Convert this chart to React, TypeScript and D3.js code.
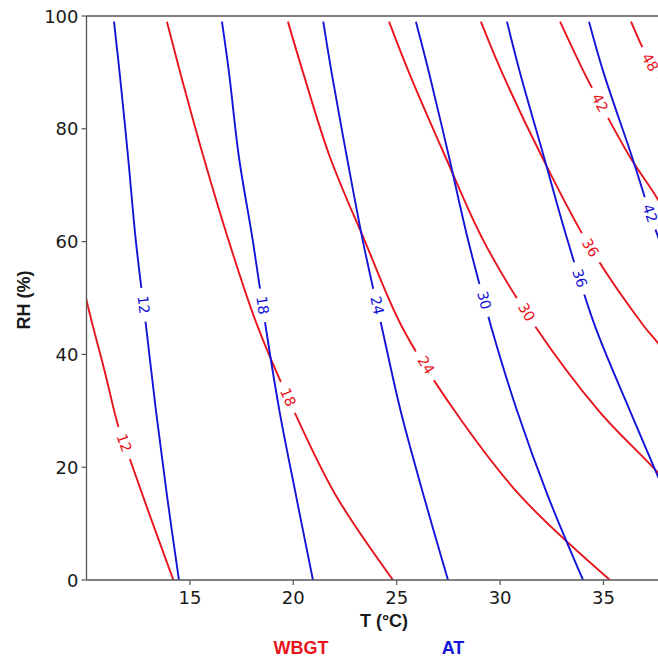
import React from 'react';
import * as d3 from 'd3';

const W = 658;
const H = 660;

const xTicks = [15, 20, 25, 30, 35];
const yTicks = [0, 20, 40, 60, 80, 100];

// WBGT contours, points as [T (°C), RH (%)]
const wbgt12 = [[9.8, 53], [10.0, 49.6], [10.31, 45], [10.74, 39], [10.98, 35.5], [11.54, 27.2], [12.1, 21.4], [12.91, 13], [14.2, 0]];
const wbgt18 = [[13.89, 99], [14.53, 90], [15.66, 75], [16.89, 60], [18.27, 45], [20.03, 30], [22.06, 15], [24.82, 0]];
const wbgt24 = [[19.74, 99], [20.47, 90], [21.77, 75], [23.47, 60], [25.24, 45], [27.8, 30], [30.96, 15], [35.31, 0]];
const wbgt30 = [[24.63, 99], [25.59, 90], [27.36, 75], [29.22, 60], [31.69, 45], [34.77, 30], [37.64, 19], [40.0, 9]];
const wbgt36 = [[29.07, 99], [30.09, 90], [32.03, 75], [34.35, 59], [36.96, 45], [37.64, 42], [39.7, 32]];
const wbgt42 = [[32.9, 99], [34.06, 90], [34.83, 84.6], [36.28, 75], [37.64, 67.4], [39.0, 58]];
const wbgt48 = [[36.33, 99], [36.86, 94.6], [37.25, 91.8], [39.2, 80]];

// AT contours, points as [T (°C), RH (%)]
const at12 = [[11.33, 99], [11.6, 90], [12.01, 75], [12.39, 60], [12.88, 45], [13.36, 30], [13.89, 15], [14.47, 0]];
const at18 = [[16.55, 99], [16.89, 90], [17.37, 75], [18.05, 60], [18.66, 45], [19.33, 30], [20.13, 15], [20.95, 0]];
const at24 = [[21.45, 99], [21.85, 90], [22.59, 75], [23.37, 60], [24.27, 45], [25.19, 30], [26.3, 15], [27.48, 0]];
const at30 = [[25.93, 99], [26.56, 90], [27.53, 75], [28.47, 60], [29.56, 45], [30.82, 30], [32.3, 15], [34.01, 0]];
const at36 = [[30.33, 99], [30.96, 90], [32.12, 75], [33.28, 60], [34.59, 45], [36.28, 30], [37.64, 18.3], [38.6, 10]];
const at42 = [[34.3, 99], [35.0, 90], [36.38, 75], [37.25, 65], [38.2, 55]];

const wbgtLevels = [12, 18, 24, 30, 36, 42, 48];
const wbgtLines = [wbgt12, wbgt18, wbgt24, wbgt30, wbgt36, wbgt42, wbgt48];
const wbgtLabelRH = [24.3, 32.4, 38.1, 47.5, 58.9, 84.6, 91.8];

const atLevels = [12, 18, 24, 30, 36, 42];
const atLines = [at12, at18, at24, at30, at36, at42];
const atLabelRH = [48.8, 48.7, 48.7, 49.6, 53.5, 65];

const RED = '#e8141c';
const BLUE = '#1414d8';

const x = d3.scaleLinear().domain([10, 40]).range([86.5, 86.5 + 30 * 20.68]);
const y = d3.scaleLinear().domain([0, 100]).range([580, 16]);

const lineGen = d3
  .line<number[]>()
  .x((d) => x(d[0]))
  .y((d) => y(d[1]))
  .curve(d3.curveCatmullRom.alpha(0.5));

function tAtRH(pts: number[][], rh: number): number {
  for (let i = 0; i < pts.length - 1; i++) {
    const a = pts[i];
    const b = pts[i + 1];
    const hi = Math.max(a[1], b[1]);
    const lo = Math.min(a[1], b[1]);
    if (rh <= hi && rh >= lo) {
      const f = (rh - a[1]) / (b[1] - a[1]);
      return a[0] + f * (b[0] - a[0]);
    }
  }
  return pts[pts.length - 1][0];
}

function labelPos(pts: number[][], rh: number) {
  const t = tAtRH(pts, rh);
  const t1 = tAtRH(pts, rh + 2);
  const t2 = tAtRH(pts, rh - 2);
  const px = x(t);
  const py = y(rh);
  const dx = x(t2) - x(t1);
  const dy = y(rh - 2) - y(rh + 2);
  let ang = (Math.atan2(dy, dx) * 180) / Math.PI;
  if (ang > 90) ang -= 180;
  if (ang < -90) ang += 180;
  return { px, py, ang };
}

type Contour = { key: string; pts: number[][]; level: number; rh: number; color: string };

const contours: Contour[] = [
  ...wbgtLines.map((pts, i) => ({ key: 'w' + i, pts, level: wbgtLevels[i], rh: wbgtLabelRH[i], color: RED })),
  ...atLines.map((pts, i) => ({ key: 'a' + i, pts, level: atLevels[i], rh: atLabelRH[i], color: BLUE })),
];

const GAP = 34;
const LABEL_FONT = 14.5;

export default function App() {
  const plotLeft = 86.5;
  const plotTop = 16;
  const plotBottom = 580;
  return (
    <svg
      width={W}
      height={H}
      style={{ position: 'absolute', left: 0, top: 0, background: '#fff' }}
      xmlns="http://www.w3.org/2000/svg"
    >
      <defs>
        <clipPath id="plotClip">
          <rect x={plotLeft} y={plotTop} width={W - plotLeft} height={plotBottom - plotTop} />
        </clipPath>
        {contours.map((c) => {
          const { px, py, ang } = labelPos(c.pts, c.rh);
          return (
            <mask id={'m' + c.key} key={c.key} maskUnits="userSpaceOnUse" x={0} y={0} width={W} height={H}>
              <rect x={0} y={0} width={W} height={H} fill="#fff" />
              <rect
                x={-GAP / 2}
                y={-7}
                width={GAP}
                height={14}
                fill="#000"
                transform={`translate(${px},${py}) rotate(${ang})`}
              />
            </mask>
          );
        })}
      </defs>
      <rect x={0} y={0} width={W} height={H} fill="#fff" />

      <g clipPath="url(#plotClip)">
        {contours.map((c) => (
          <path
            key={c.key}
            d={lineGen(c.pts) || ''}
            fill="none"
            stroke={c.color}
            strokeWidth={1.9}
            mask={`url(#m${c.key})`}
          />
        ))}
        {contours.map((c) => {
          const { px, py, ang } = labelPos(c.pts, c.rh);
          return (
            <text
              key={'t' + c.key}
              transform={`translate(${px},${py}) rotate(${ang})`}
              textAnchor="middle"
              dominantBaseline="central"
              fontFamily="DejaVu Sans, sans-serif"
              fontSize={LABEL_FONT}
              fill={c.color}
            >
              {c.level}
            </text>
          );
        })}
      </g>

      {/* spines */}
      <g stroke="#555" strokeWidth={1.3} fill="none">
        <line x1={plotLeft} y1={plotTop} x2={W} y2={plotTop} />
        <line x1={plotLeft} y1={plotTop} x2={plotLeft} y2={plotBottom} />
        <line x1={plotLeft} y1={plotBottom} x2={W} y2={plotBottom} />
      </g>

      {/* y ticks */}
      {yTicks.map((v) => (
        <g key={'y' + v}>
          <line x1={plotLeft - 5} x2={plotLeft} y1={y(v)} y2={y(v)} stroke="#555" strokeWidth={1.2} />
          <text
            x={plotLeft - 8}
            y={y(v)}
            textAnchor="end"
            dominantBaseline="central"
            fontFamily="DejaVu Sans, sans-serif"
            fontSize={18}
            fill="#1a1a1a"
          >
            {v}
          </text>
        </g>
      ))}

      {/* x ticks */}
      {xTicks.map((v) => (
        <g key={'x' + v}>
          <line x1={x(v)} x2={x(v)} y1={plotBottom} y2={plotBottom + 5} stroke="#555" strokeWidth={1.2} />
          <text
            x={x(v)}
            y={plotBottom + 24}
            textAnchor="middle"
            fontFamily="DejaVu Sans, sans-serif"
            fontSize={18}
            fill="#1a1a1a"
          >
            {v}
          </text>
        </g>
      ))}

      <text
        x={384}
        y={627}
        textAnchor="middle"
        fontFamily="Liberation Sans, Arial, sans-serif"
        fontWeight="bold"
        fontSize={18}
        fill="#1a1a1a"
      >
        T (°C)
      </text>
      <text
        transform={`translate(30,300) rotate(-90)`}
        textAnchor="middle"
        fontFamily="Liberation Sans, Arial, sans-serif"
        fontWeight="bold"
        fontSize={18}
        fill="#1a1a1a"
      >
        RH (%)
      </text>

      <text
        x={301}
        y={654}
        textAnchor="middle"
        fontFamily="Liberation Sans, Arial, sans-serif"
        fontWeight="bold"
        fontSize={18}
        fill={RED}
      >
        WBGT
      </text>
      <text
        x={453}
        y={654}
        textAnchor="middle"
        fontFamily="Liberation Sans, Arial, sans-serif"
        fontWeight="bold"
        fontSize={18}
        fill={BLUE}
      >
        AT
      </text>
    </svg>
  );
}
